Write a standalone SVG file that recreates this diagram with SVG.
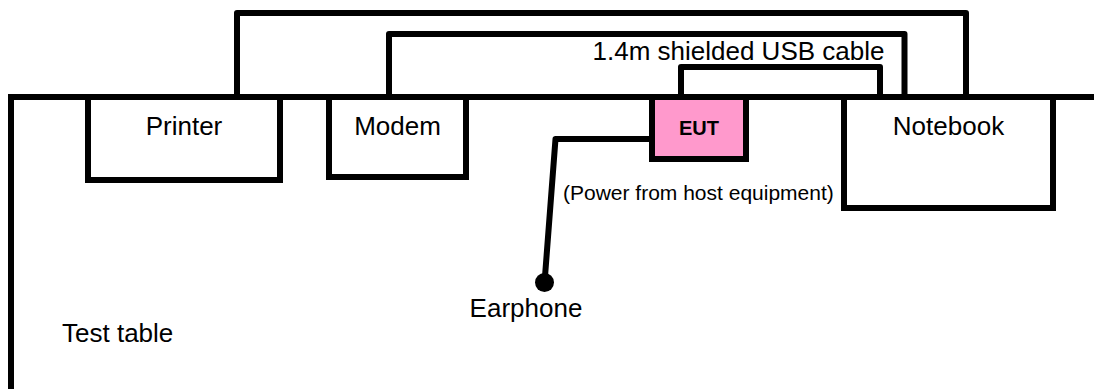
<svg xmlns="http://www.w3.org/2000/svg" width="1094" height="389" viewBox="0 0 1094 389">
<style>
.ln{fill:none;stroke:#000;stroke-width:6;stroke-linejoin:round}
.box{fill:#fff;stroke:#000;stroke-width:6}
.eut{fill:#FF99CC;stroke:#000;stroke-width:6}
.lbl{font-family:"Liberation Sans",Arial,sans-serif;font-size:26px;fill:#000;text-anchor:middle}
.sm{font-family:"Liberation Sans",Arial,sans-serif;font-size:21px;fill:#000}
.b{font-family:"Liberation Sans",Arial,sans-serif;font-size:20px;font-weight:bold;fill:#000;text-anchor:middle}
</style>
<rect width="1094" height="389" fill="#fff"/>
<g id="table">
<path d="M11,389 L11,97 L1094,97" fill="none" stroke="#000" stroke-width="6" stroke-linejoin="miter"/>
<text x="62" y="342" class="lbl" style="text-anchor:start">Test table</text>
</g>
<g id="connectors">
<path class="ln" d="M237,97 V13 H966 V97"/>
<path class="ln" d="M389,97 V34 H904.5 V97"/>
<path class="ln" d="M681,97 V67 H880 V97"/>
<path class="ln" d="M652,139 H555.5 L544.5,283"/>
<circle cx="544.5" cy="282.5" r="9.5" fill="#000"/>
<text x="738.5" y="60" class="lbl">1.4m shielded USB cable</text>
</g>
<g id="printer">
<rect class="box" x="88" y="97" width="192" height="83"/>
<text x="184" y="135" class="lbl">Printer</text>
</g>
<g id="modem">
<rect class="box" x="329" y="97" width="137" height="80"/>
<text x="397.5" y="135" class="lbl">Modem</text>
</g>
<g id="eut">
<rect class="eut" x="652" y="97" width="94" height="62"/>
<text x="699" y="135" class="b">EUT</text>
<text x="563" y="200" class="sm">(Power from host equipment)</text>
</g>
<g id="notebook">
<rect class="box" x="844" y="97" width="209" height="111"/>
<text x="948.5" y="135" class="lbl">Notebook</text>
</g>
<g id="earphone">
<text x="526" y="317" class="lbl">Earphone</text>
</g>
</svg>
